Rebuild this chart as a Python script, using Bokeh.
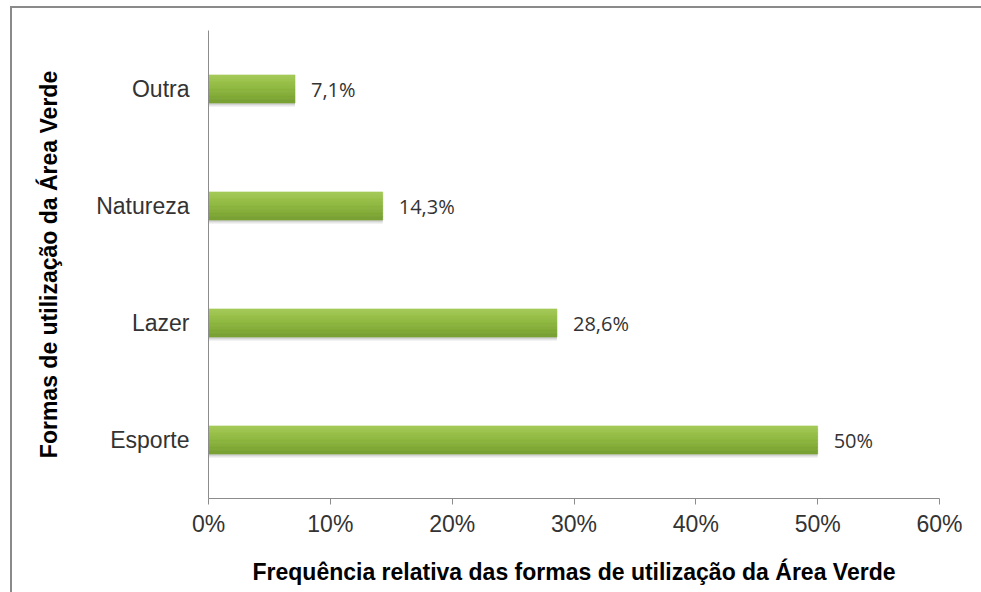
from bokeh.plotting import figure
from bokeh.models import ColumnDataSource, FixedTicker, NumeralTickFormatter
from bokeh.transform import dodge
from bokeh.core.properties import value
from bokeh.embed import file_html
from bokeh.resources import INLINE

categories = ["Esporte", "Lazer", "Natureza", "Outra"]
values = [0.50, 0.286, 0.143, 0.071]
labels = ["50%", "28,6%", "14,3%", "7,1%"]
x_ticks = [0, 0.1, 0.2, 0.3, 0.4, 0.5, 0.6]

src = ColumnDataSource(dict(cat=categories, val=values, lab=labels))

p = figure(width=971, height=586, y_range=categories, x_range=(0, 0.6),
           output_backend="svg", toolbar_location=None,
           min_border_left=196, min_border_right=44, min_border_top=22,
           min_border_bottom=96,
           styles={"border-top": "2px solid #8a8a8a", "border-left": "2px solid #8a8a8a",
                   "margin-left": "10px", "margin-top": "6px"})
p.outline_line_color = None
p.xgrid.grid_line_color = None
p.ygrid.grid_line_color = None

# shadow
p.hbar(y=dodge("cat", -0.03, range=p.y_range), left=0, right="val", height=0.24,
       source=src, fill_color="#9a9a9a", fill_alpha=0.25, line_color=None)
p.hbar(y=dodge("cat", -0.015, range=p.y_range), left=0, right="val", height=0.24,
       source=src, fill_color="#8a8a8a", fill_alpha=0.25, line_color=None)

# gradient bar strips
bar_h = 0.24
strip_cols = ["#a2c855", "#9dc44e", "#97bf48", "#91ba43", "#8bb43e",
              "#85ae3a", "#7fa836", "#79a133"]
n = len(strip_cols)
sh = bar_h / n
for i, c in enumerate(strip_cols):
    off = bar_h / 2 - (i + 0.5) * sh
    p.hbar(y=dodge("cat", off, range=p.y_range), left=0, right="val", height=sh,
           source=src, fill_color=c, line_color=c, line_width=0.6)

p.text(x="val", y="cat", text="lab", source=src, x_offset=16,
       text_baseline="middle", text_align="left",
       text_font=value("Open Sans"), text_font_size="20px", text_color="#333333")

xa = p.xaxis[0]
xa.ticker = FixedTicker(ticks=x_ticks)
xa.formatter = NumeralTickFormatter(format="0%")
xa.axis_line_color = "#8c8c8c"
xa.major_tick_line_color = "#8c8c8c"
xa.major_tick_out = 6
xa.major_tick_in = 0
xa.minor_tick_line_color = None
xa.major_label_text_font = "Liberation Sans"
xa.major_label_text_font_size = "23px"
xa.major_label_text_color = "#333333"
xa.major_label_standoff = 6
xa.axis_label = "Frequência relativa das formas de utilização da Área Verde"
xa.axis_label_text_font = "Liberation Sans"
xa.axis_label_text_font_style = "bold"
xa.axis_label_text_font_size = "23px"
xa.axis_label_text_color = "#000000"
xa.axis_label_standoff = 19

ya = p.yaxis[0]
ya.axis_line_color = "#8c8c8c"
ya.major_tick_line_color = None
ya.minor_tick_line_color = None
ya.major_label_text_font = "Liberation Sans"
ya.major_label_text_font_size = "23px"
ya.major_label_text_color = "#333333"
ya.major_label_standoff = 13
ya.axis_label = "Formas de utilização da Área Verde"
ya.axis_label_text_font = "Liberation Sans"
ya.axis_label_text_font_style = "bold"
ya.axis_label_text_font_size = "23px"
ya.axis_label_text_color = "#000000"
ya.axis_label_standoff = 31

open("out.html", "w").write(file_html(p, INLINE))
